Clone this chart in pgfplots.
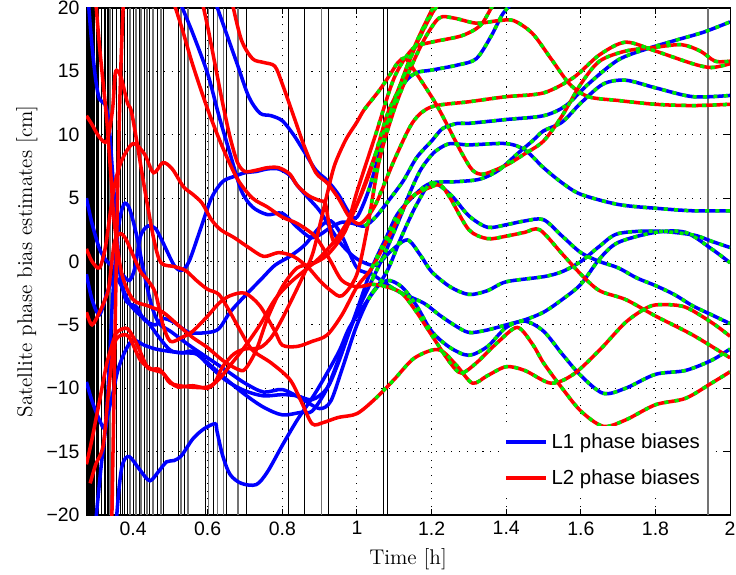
\documentclass[border=0pt]{standalone}
\usepackage{fontspec}
\usepackage{pgfplots}
\usepackage{pgfplotstable}
\pgfplotsset{compat=1.18}
\newfontfamily\arialfont{Liberation Sans}
\definecolor{mblue}{RGB}{0,0,255}
\definecolor{mred}{RGB}{255,0,0}
\definecolor{mgreen}{RGB}{0,235,0}

% blue (L1) curves
\pgfplotstableread[row sep=\\]{x y\\0.355 -20.5\\0.362 -18\\0.37 -16.2\\0.38 -15.5\\0.39 -15.4\\0.40 -15.7\\0.42 -16.5\\0.445 -17.3\\0.47 -16.5\\0.49 -15.8\\0.51 -15.7\\0.53 -15.3\\0.56 -14\\0.59 -13.2\\0.62 -12.8\\0.625 -13.4\\0.64 -15.3\\0.66 -16.8\\0.69 -17.5\\0.73 -17.6\\0.76 -16.6\\0.80 -14.5\\0.84 -12.5\\0.89 -10.3\\0.95 -7.2\\0.98 -5.2\\1.03 -3\\1.08 -0.8\\1.12 2\\1.16 4.5\\1.2 6.2\\1.25 5.3\\1.3 3.6\\1.35 2.7\\1.4 2.9\\1.45 3.2\\1.5 3.3\\1.55 2\\1.6 0.7\\1.65 0\\1.7 -0.5\\1.75 -1.3\\1.8 -1.9\\1.85 -2.6\\1.9 -3.5\\1.95 -4.2\\2.0 -4.9\\}\Ba
\pgfplotstableread[row sep=\\]{x y\\0.525 20.5\\0.56 18\\0.60 14.8\\0.63 11.5\\0.66 8.5\\0.69 5.6\\0.72 4.3\\0.76 3.7\\0.8 3.8\\0.84 2.7\\0.875 1.9\\0.9 2.1\\0.93 2.7\\0.96 3.1\\0.99 3.0\\1.02 2.8\\1.05 3.5\\1.09 5\\1.125 6.4\\1.16 8.2\\1.2 9.5\\1.23 10.5\\1.27 10.9\\1.3 10.9\\1.4 11.2\\1.5 11.5\\1.56 12.3\\1.62 14\\1.7 15.9\\1.78 16.8\\1.86 17.5\\1.93 18.1\\2.0 18.9\\}\Bb
\pgfplotstableread[row sep=\\]{x y\\0.62 20.5\\0.65 18\\0.68 15.5\\0.71 13\\0.74 11.7\\0.77 11.5\\0.80 11.1\\0.83 10\\0.86 8.6\\0.89 7.2\\0.92 6.4\\0.95 5.3\\0.98 3.8\\1.0 3.5\\1.03 5.5\\1.06 8.5\\1.08 10.6\\1.1 12.6\\1.13 14.2\\1.16 14.9\\1.2 15.1\\1.27 15.5\\1.32 16\\1.36 17.8\\1.39 19.5\\1.42 20.5\\}\Bc
\pgfplotstableread[row sep=\\]{x y\\0.275 -9.5\\0.29 -11\\0.31 -12.5\\0.325 -13\\0.335 -9\\0.345 -3\\0.36 2.5\\0.375 4.5\\0.39 4.2\\0.41 2\\0.43 -1\\0.45 -3.5\\0.47 -4.9\\0.5 -5.5\\0.55 -6.6\\0.6 -7.6\\0.65 -8.6\\0.7 -9.6\\0.75 -10.3\\0.8 -10.1\\0.85 -10.8\\0.9 -11.6\\0.93 -11\\0.96 -8.5\\1.0 -5\\1.04 -2.5\\1.08 -1.5\\1.12 -2\\1.16 -3.5\\1.2 -5.5\\1.25 -6.8\\1.3 -7.4\\1.35 -6.7\\1.4 -5.2\\1.45 -4.7\\1.5 -5.5\\1.55 -7.3\\1.6 -9\\1.66 -10.4\\1.72 -10\\1.8 -8.9\\1.88 -8.6\\1.95 -7.8\\2.0 -6.9\\}\Bd
\pgfplotstableread[row sep=\\]{x y\\0.275 -1\\0.29 -3\\0.31 -4.2\\0.33 -2.5\\0.35 -1.2\\0.37 -2\\0.39 -3.3\\0.41 -4\\0.44 -4.8\\0.47 -6\\0.5 -7\\0.53 -7.2\\0.56 -7.1\\0.6 -8\\0.65 -9.3\\0.7 -10.5\\0.75 -11.5\\0.8 -12.1\\0.85 -11.9\\0.88 -11.8\\0.92 -10\\0.96 -7\\1.0 -4\\1.04 -1.5\\1.08 1\\1.12 3.8\\1.14 5.3\\1.17 7.2\\1.2 8.4\\1.22 8.9\\1.25 9.3\\1.3 9.2\\1.4 9.3\\1.45 8.8\\1.5 7.4\\1.55 6.2\\1.6 5.3\\1.7 4.5\\1.8 4.2\\1.9 4.0\\2.0 4.0\\}\Be
\pgfplotstableread[row sep=\\]{x y\\0.275 5\\0.29 3\\0.31 1\\0.33 0\\0.35 -0.5\\0.37 -1\\0.39 -1.5\\0.405 -0.5\\0.42 2\\0.44 2.8\\0.46 2.6\\0.48 1.5\\0.51 -0.3\\0.53 -0.7\\0.55 0\\0.58 2.5\\0.61 5\\0.64 6.3\\0.67 6.7\\0.7 7\\0.73 7.1\\0.76 7.3\\0.79 7.3\\0.82 6.8\\0.84 6\\0.87 5\\0.9 4\\0.93 2.6\\0.96 1.3\\1.0 0.2\\1.05 -0.3\\1.09 0.8\\1.135 1.7\\1.17 0.5\\1.2 -0.8\\1.25 -2\\1.3 -2.6\\1.35 -2.3\\1.4 -1.6\\1.5 -1.2\\1.55 -0.8\\1.6 0\\1.65 1.2\\1.7 2.2\\1.8 2.4\\1.9 2.1\\1.95 1.6\\2.0 1.1\\}\Bf
\pgfplotstableread[row sep=\\]{x y\\0.28 20.5\\0.29 17\\0.30 14.3\\0.31 12.8\\0.325 12.4\\0.335 11\\0.345 7\\0.355 3\\0.365 -1\\0.38 -3\\0.395 -3.4\\0.41 -3.6\\0.43 -4.6\\0.46 -5\\0.48 -4.5\\0.51 -4.8\\0.55 -5.6\\0.6 -5.6\\0.63 -5.3\\0.66 -4\\0.7 -2.7\\0.74 -1.5\\0.78 -0.3\\0.82 0.4\\0.86 1.3\\0.9 2.7\\0.93 3.2\\0.96 2\\1.0 -0.5\\1.04 -1\\1.08 -1.8\\1.12 -2.5\\1.18 -3.3\\1.22 -4.2\\1.26 -5\\1.3 -5.6\\1.35 -5.4\\1.4 -5\\1.45 -4.6\\1.5 -4\\1.55 -3\\1.6 -1.8\\1.65 0.2\\1.7 1.5\\1.8 2.3\\1.88 2.3\\1.95 1\\2.0 -0.1\\}\Bg
\pgfplotstableread[row sep=\\]{x y\\0.3 -20.5\\0.315 -16\\0.33 -12.5\\0.345 -10.5\\0.36 -8.5\\0.38 -7\\0.4 -6.2\\0.43 -6.6\\0.46 -6.9\\0.5 -7.1\\0.53 -7.2\\0.57 -7.3\\0.6 -8.1\\0.65 -9.4\\0.7 -10.2\\0.75 -10.6\\0.8 -10.5\\0.84 -10.6\\0.88 -10.9\\0.92 -10\\0.95 -8\\0.98 -5.5\\1.01 -3\\1.04 -0.5\\1.08 2\\1.11 3.8\\1.16 5.4\\1.2 6.2\\1.27 6.3\\1.33 6.5\\1.38 7.2\\1.43 8.5\\1.47 9.5\\1.5 10.3\\1.55 11\\1.6 12.5\\1.66 14\\1.72 14.3\\1.8 13.7\\1.9 13.0\\2.0 13.1\\}\Bh

% red (L2) curves
\pgfplotstableread[row sep=\\]{x y\\0.508 20.5\\0.53 18.5\\0.56 15.5\\0.6 12\\0.64 9\\0.68 6.5\\0.72 5\\0.76 4.3\\0.8 3.5\\0.84 3\\0.88 2.2\\0.9 1.5\\0.93 0\\0.96 -1.5\\1.0 -2\\1.04 -1.8\\1.08 -2\\1.12 -2.5\\1.16 -4\\1.2 -5.8\\1.25 -8\\1.28 -8.8\\1.32 -8\\1.38 -6.3\\1.43 -5.2\\1.47 -6.5\\1.5 -8\\1.55 -10\\1.6 -11.8\\1.66 -13\\1.72 -12.5\\1.8 -11.3\\1.88 -10.8\\1.95 -9.6\\2.0 -8.7\\}\Ra
\pgfplotstableread[row sep=\\]{x y\\0.585 20.5\\0.6 18.5\\0.62 15.5\\0.64 12.5\\0.66 9.8\\0.68 7.8\\0.7 7.1\\0.73 7.2\\0.76 7.4\\0.79 7.4\\0.82 6.9\\0.84 6\\0.87 5.2\\0.9 4.8\\0.915 4.6\\0.925 3\\0.94 1.5\\0.97 2.5\\1.0 5.5\\1.05 10\\1.1 14.5\\1.15 16.8\\1.2 17.3\\1.28 17.8\\1.33 18.6\\1.36 20\\1.37 20.5\\}\Rb
\pgfplotstableread[row sep=\\]{x y\\0.665 20.5\\0.69 17.5\\0.72 16\\0.75 15.7\\0.78 15.4\\0.8 14\\0.83 11.5\\0.86 9\\0.89 7\\0.92 6.2\\0.95 5\\0.98 3.5\\1.01 3\\1.05 4.5\\1.1 8\\1.15 11\\1.2 12.2\\1.3 12.6\\1.4 13\\1.5 13.3\\1.58 14.5\\1.65 16.3\\1.72 17.3\\1.8 16.6\\1.9 15.6\\1.95 15.3\\2.0 15.6\\}\Rc
\pgfplotstableread[row sep=\\]{x y\\0.275 -16\\0.29 -14\\0.31 -11\\0.33 -8\\0.35 -6\\0.36 -5.5\\0.385 -5.3\\0.41 -6.5\\0.44 -8.4\\0.47 -8.5\\0.5 -9.5\\0.52 -9.9\\0.56 -9.8\\0.6 -10\\0.62 -9.5\\0.64 -8.3\\0.67 -7.3\\0.7 -6.9\\0.74 -6.8\\0.77 -6\\0.8 -4.5\\0.85 -1.5\\0.88 0.5\\0.9 2.8\\0.92 5.3\\0.94 7.6\\0.97 9.6\\1.0 11\\1.02 12\\1.06 13.5\\1.09 14.8\\1.11 15.7\\1.13 16\\1.16 14.8\\1.2 13\\1.22 12\\1.245 10.6\\1.28 8.6\\1.31 7.2\\1.34 6.9\\1.4 7.6\\1.45 8.5\\1.5 9.5\\1.55 11.5\\1.6 14\\1.65 15.8\\1.72 16.6\\1.8 16.9\\1.87 17.1\\1.92 16.6\\1.96 15.8\\2.0 15.8\\}\Rd
\pgfplotstableread[row sep=\\]{x y\\0.275 1\\0.29 0\\0.31 -0.5\\0.325 1\\0.335 3\\0.35 6\\0.37 8\\0.4 9.3\\0.43 8.5\\0.455 7\\0.48 7.8\\0.505 7.3\\0.535 5.9\\0.56 5.3\\0.585 4.6\\0.61 3.3\\0.635 2.5\\0.67 1.9\\0.71 1.1\\0.75 0.4\\0.79 0.7\\0.83 0.4\\0.87 -0.5\\0.9 -1.5\\0.93 -2.3\\0.96 -2.7\\1.0 -1\\1.03 3\\1.06 8\\1.1 12\\1.14 15\\1.18 17.5\\1.22 19.2\\1.26 19.2\\1.32 18.8\\1.38 19\\1.42 19\\1.47 18\\1.52 16\\1.57 14\\1.62 13\\1.7 12.7\\1.8 12.4\\1.9 12.3\\2.0 12.4\\}\Re
\pgfplotstableread[row sep=\\]{x y\\0.275 11.5\\0.29 10.8\\0.31 9.8\\0.33 9.5\\0.345 12\\0.352 14.8\\0.36 15\\0.37 14.3\\0.385 12.5\\0.395 11.9\\0.411 9.3\\0.43 5.9\\0.456 1.7\\0.475 -0.1\\0.51 -0.4\\0.54 -0.7\\0.57 -1.5\\0.6 -2.2\\0.63 -2.6\\0.66 -4\\0.69 -5.6\\0.72 -7\\0.77 -8\\0.82 -9.3\\0.85 -11\\0.88 -12.8\\0.91 -12.7\\0.95 -12.3\\1.0 -12\\1.05 -10.8\\1.1 -9.3\\1.15 -7.7\\1.2 -7.0\\1.23 -7.1\\1.27 -8.3\\1.31 -9.6\\1.35 -9\\1.4 -8.3\\1.45 -8.6\\1.52 -9.6\\1.58 -8.9\\1.65 -7\\1.72 -4.8\\1.78 -3.6\\1.82 -3.4\\1.88 -3.6\\1.95 -4.8\\2.0 -5.9\\}\Rf
\pgfplotstableread[row sep=\\]{x y\\0.275 -4\\0.29 -5\\0.31 -4\\0.325 -3\\0.335 -2\\0.35 1.5\\0.365 2.2\\0.38 1.8\\0.4 0.5\\0.42 -0.8\\0.44 -1.5\\0.46 -2.5\\0.48 -5\\0.5 -6.3\\0.53 -6\\0.56 -5.5\\0.6 -4.3\\0.63 -3.3\\0.66 -2.7\\0.7 -2.5\\0.74 -3.5\\0.78 -5.5\\0.8 -6.6\\0.84 -6.7\\0.88 -6.3\\0.92 -5.8\\0.96 -4.2\\1.0 -2\\1.04 -0.5\\1.09 2.2\\1.14 4.9\\1.2 5.9\\1.225 6.0\\1.25 5\\1.3 2.5\\1.35 1.8\\1.4 2.0\\1.45 2.3\\1.49 2.5\\1.55 0.6\\1.6 -1\\1.65 -2.3\\1.72 -3\\1.8 -4.3\\1.9 -5.8\\2.0 -7.6\\}\Rg
\pgfplotstableread[row sep=\\]{x y\\0.285 -17.5\\0.3 -16\\0.32 -14.5\\0.335 -10\\0.35 -6.5\\0.37 -5.8\\0.39 -6\\0.42 -7.8\\0.45 -8.5\\0.48 -8.8\\0.5 -9.6\\0.55 -9.9\\0.6 -9.9\\0.63 -9.3\\0.66 -8.2\\0.7 -6.7\\0.74 -5\\0.78 -3\\0.82 -1.7\\0.86 -0.7\\0.9 0.3\\0.95 2\\1.0 4.5\\1.04 7.5\\1.08 11.5\\1.11 13.5\\1.155 17\\1.2 19.8\\1.215 20.5\\}\Rh
\pgfplotstableread[row sep=\\]{x y\\0.343 -20.5\\0.348 -12\\0.352 -5\\0.357 3\\0.362 10\\0.368 16\\0.374 20.5\\}\Ri
\pgfplotstableread[row sep=\\]{x y\\0.3 20.5\\0.31 17\\0.32 14\\0.33 11\\0.34 7\\0.35 3\\0.37 -1\\0.4 -3\\0.44 -3.5\\0.48 -4\\0.52 -5\\0.56 -6\\0.6 -6.8\\0.64 -7.8\\0.68 -8.5\\0.7 -8.5\\0.73 -7\\0.76 -4.5\\0.8 -2\\0.84 -0.5\\0.88 -0.2\\0.92 0.5\\0.96 2\\1.0 4.5\\1.05 8.5\\1.1 12.5\\1.15 16.5\\1.2 19.5\\1.225 20.5\\}\Rj

\newcommand\bl[1]{\addplot[mblue, line width=1.9pt, smooth, forget plot] table {#1};}
\newcommand\rd[1]{\addplot[mred, line width=1.9pt, smooth, forget plot] table {#1};}
\newcommand\gr[1]{\addplot[mgreen, line width=1.9pt, smooth, dash pattern=on 2.2pt off 3.4pt,
    restrict x to domain=1.02:2.1, forget plot] table {#1};}

\begin{document}
\begin{tikzpicture}
\begin{axis}[
  scale only axis, width=348pt, height=274pt,
  xmin=0.274, xmax=2, ymin=-20, ymax=20,
  xtick={0.4,0.6,0.8,1,1.2,1.4,1.6,1.8,2},
  xticklabels={0.4,0.6,0.8,1,1.2,1.4,1.6,1.8,2},
  ytick={-20,-15,-10,-5,0,5,10,15,20},
  yticklabels={−20,−15,−10,−5,0,5,10,15,20},
  ticklabel style={font=\arialfont\fontsize{10.5}{12}\selectfont},
  tick align=inside, major tick length=3pt,
  tick style={black, line width=0.5pt},
  axis line style={line width=0.6pt},
  grid=major,
  grid style={black, line width=0.5pt, dash pattern=on 0.6pt off 3.6pt},
  xlabel={Time [h]}, ylabel={Satellite phase bias estimates [cm]},
  label style={font=\fontsize{11.5}{13}\selectfont},
  ylabel style={yshift=-2pt},
  legend image code/.code={\draw[#1] (0cm,0cm) -- (0.76cm,0cm);},
  legend style={at={(axis cs:1.94,-18.4)}, anchor=south east, draw=none, fill=white,
    font=\arialfont\fontsize{11}{13}\selectfont, row sep=6pt, inner sep=2pt},
  legend cell align=left,
]
% vertical event lines
\pgfplotsinvokeforeach{0.275,0.2775,0.28,0.2825,0.285,0.2875,0.29,0.2925,0.295}{
  \addplot[black, line width=1pt, forget plot] coordinates {(#1,-20)(#1,20)};}
\pgfplotsinvokeforeach{0.302,0.306,0.315,0.323,0.327,0.331,0.335,0.344,0.355,0.365,0.371,0.376,0.384,0.400,0.416,0.430,0.443,0.465,0.481,0.521,0.537,0.593,0.615,0.650,0.704,0.816,0.859,0.924,1.071,1.082}{
  \addplot[black, line width=0.55pt, forget plot] coordinates {(#1,-20)(#1,20)};}
\pgfplotsinvokeforeach{0.339,0.392,0.408,0.422,0.438,0.454,0.475,0.529,0.548,0.602,0.626,0.642,0.682,0.905,1.941}{
  \addplot[black!55, line width=0.9pt, forget plot] coordinates {(#1,-20)(#1,20)};}

\bl\Ba \bl\Bb \bl\Bc \bl\Bd \bl\Be \bl\Bf \bl\Bg \bl\Bh
\rd\Ra \rd\Rb \rd\Rc \rd\Rd \rd\Re \rd\Rf \rd\Rg \rd\Rh \rd\Ri \rd\Rj
\gr\Ba \gr\Bb \gr\Bc \gr\Bd \gr\Be \gr\Bf \gr\Bg \gr\Bh
\gr\Ra \gr\Rb \gr\Rc \gr\Rd \gr\Re \gr\Rf \gr\Rg \gr\Rh \gr\Rj

\addlegendimage{mblue, line width=1.9pt}
\addlegendentry{L1 phase biases}
\addlegendimage{mred, line width=1.9pt}
\addlegendentry{L2 phase biases}
\end{axis}
\pgfresetboundingbox
\path[use as bounding box] ([shift={(-46.5pt,-31.9pt)}]current axis.south west)
  rectangle ([shift={(3.2pt,4.3pt)}]current axis.north east);
\end{tikzpicture}
\end{document}
